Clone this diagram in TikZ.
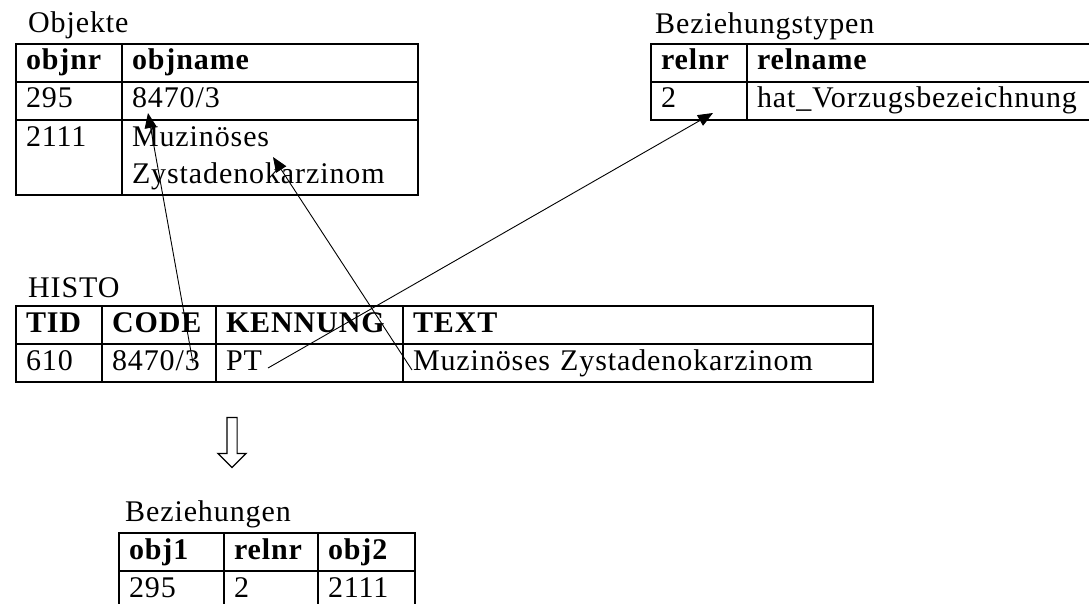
\documentclass[tikz,border=0pt]{standalone}
\usepackage{fontspec}
\setmainfont{Liberation Serif}[LetterSpace=3]
\usetikzlibrary{positioning,arrows.meta,shapes.arrows}

\newcommand\cellfont{\fontsize{30}{37}\selectfont}

\tikzset{
    cell/.style={draw, line width=1.2pt, outer sep=0pt, anchor=north west, minimum height=38pt,
        inner xsep=10pt, inner ysep=0pt, text height=20pt, text depth=6pt, align=left, font=\cellfont},
    headcell/.style={cell, font=\cellfont\bfseries},
    tallcell/.style={cell, minimum height=75pt, text height=23pt, text depth=44pt},
    tablename/.style={anchor=base west, inner sep=0pt, font=\cellfont},
    link/.style={line width=0.9pt, -{Triangle[length=15pt,width=12pt]}}
}

\begin{document}
\begin{tikzpicture}[x=1pt,y=-1pt]

            % Page frame
            \clip (0,0) rectangle (1089,604);

            % Table Objekte
            \node[tablename] (objlabel) at (28,33) {Objekte};
            \node[headcell, text width=86pt] (objnr) at (16,44) {objnr};
            \node[headcell, text width=276pt, right=0pt of objnr] (objname) {objname};
            \node[cell, text width=86pt, below=0pt of objnr] (obja) {295};
            \node[cell, text width=276pt, below=0pt of objname] (objaname) {8470/3};
            \node[tallcell, text width=86pt, below=0pt of obja] (objb) {2111};
            \node[tallcell, text width=276pt, below=0pt of objaname] (objbname) {Muzinöses\\Zystadenokarzinom};

            % Table Beziehungstypen
            \node[tablename] (rellabel) at (655,34) {Beziehungstypen};
            \node[headcell, text width=76pt] (relnr) at (651,44) {relnr};
            \node[headcell, text width=328pt, right=0pt of relnr] (relname) {relname};
            \node[cell, text width=76pt, below=0pt of relnr] (relval) {2};
            \node[cell, text width=328pt, below=0pt of relname] (relnameval) {hat\_Vorzugsbezeichnung};

            % Table HISTO
            \node[tablename] (histolabel) at (28,297) {HISTO};
            \node[headcell, text width=66pt] (htid) at (16,306) {TID};
            \node[headcell, text width=94pt, right=0pt of htid] (hcode) {CODE};
            \node[headcell, text width=167pt, right=0pt of hcode] (hkenn) {KENNUNG};
            \node[headcell, text width=450pt, right=0pt of hkenn] (htext) {TEXT};
            \node[cell, text width=66pt, below=0pt of htid] (htidval) {610};
            \node[cell, text width=94pt, below=0pt of hcode] (hcodeval) {8470/3};
            \node[cell, text width=167pt, below=0pt of hkenn] (hkennval) {PT};
            \node[cell, text width=450pt, below=0pt of htext] (htextval) {Muzinöses Zystadenokarzinom};

            % Conversion arrow
            \node[single arrow, draw, line width=1.2pt, rotate=-90, minimum height=50pt,
                inner sep=4.5pt, single arrow head extend=9pt] (convert) at (232,440) {};

            % Table Beziehungen
            \node[tablename] (bezlabel) at (125,521) {Beziehungen};
            \node[headcell, text width=85pt] (bobj1) at (119,533) {obj1};
            \node[headcell, text width=74pt, right=0pt of bobj1] (brelnr) {relnr};
            \node[headcell, text width=77pt, right=0pt of brelnr] (bobj2) {obj2};
            \node[cell, text width=85pt, below=0pt of bobj1] (bobj1val) {295};
            \node[cell, text width=74pt, below=0pt of brelnr] (brelnrval) {2};
            \node[cell, text width=77pt, below=0pt of bobj2] (bobj2val) {2111};

            % Links from HISTO to the tables
            \draw[link] ([xshift=34pt]hcodeval.center) -- ([xshift=26pt,yshift=7pt]objaname.south west);
            \draw[link] ([xshift=9pt,yshift=-7pt]htextval.west) -- ([xshift=151pt,yshift=38pt]objbname.south west);
            \draw[link] ([xshift=52pt,yshift=-5pt]hkennval.west) -- ([xshift=62pt,yshift=7pt]relval.south west);

\end{tikzpicture}
\end{document}
